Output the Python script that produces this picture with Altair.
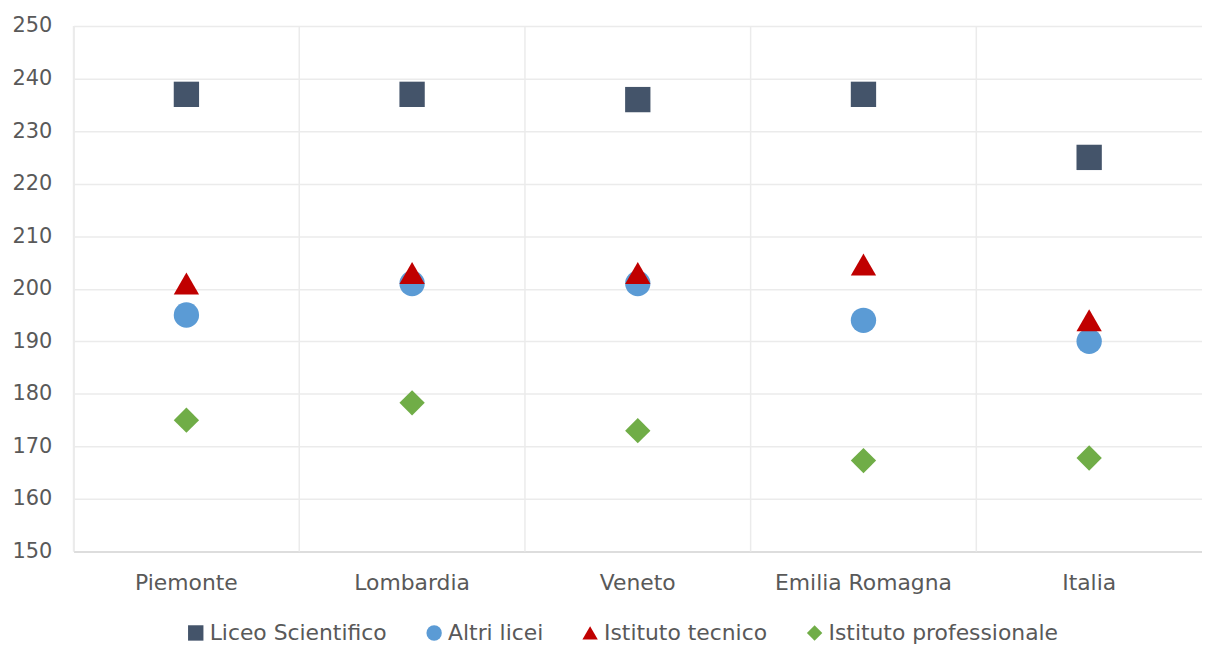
import altair as alt
import pandas as pd

regions = ["Piemonte", "Lombardia", "Veneto", "Emilia Romagna", "Italia"]
series = ["Liceo Scientifico", "Altri licei", "Istituto tecnico", "Istituto professionale"]
liceo_scientifico = [237, 237, 236, 237, 225]
altri_licei = [195, 201, 201, 194, 190]
istituto_tecnico = [201, 203, 203, 204.6, 194]
istituto_professionale = [175, 178.3, 173, 167.3, 167.8]

colors = ["#44546A", "#5B9BD5", "#C00000", "#70AD47"]
shapes = ["square", "circle", "triangle-up", "diamond"]

rows = []
for s, vals in zip(series, [liceo_scientifico, altri_licei, istituto_tecnico, istituto_professionale]):
    for r, v in zip(regions, vals):
        rows.append({"Regione": r, "Serie": s, "Valore": v})
df = pd.DataFrame(rows)
df_regions = pd.DataFrame({"Regione": regions})

FONT = "DejaVu Sans"
GREY = "#595959"

xscale = alt.Scale(domain=regions, paddingInner=0, paddingOuter=0)
xaxis = alt.Axis(title=None, labelAngle=0, labelFontSize=22, labelColor=GREY,
                 labelFont=FONT, labelPadding=21, ticks=False, grid=False,
                 domainColor="#d9d9d9", domainWidth=1.5, labelFontWeight="normal")

grid = alt.Chart(df_regions).mark_rule(color="#ebebeb", strokeWidth=1.5).encode(
    x=alt.X("Regione:N", bandPosition=0, scale=xscale, sort=regions, axis=xaxis)
)

points = alt.Chart(df).mark_point(filled=True, size=650, opacity=1).encode(
    x=alt.X("Regione:N", sort=regions, scale=xscale, axis=xaxis),
    y=alt.Y("Valore:Q", scale=alt.Scale(domain=[150, 250], nice=False, zero=False),
            axis=alt.Axis(title=None, values=list(range(150, 251, 10)), labelFontSize=21,
                          labelColor=GREY, labelFont=FONT, labelPadding=22, ticks=False,
                          domain=False, gridColor="#ebebeb", gridWidth=1.5)),
    color=alt.Color("Serie:N", sort=series,
                    scale=alt.Scale(domain=series, range=colors),
                    legend=alt.Legend(title=None, orient="none", direction="horizontal",
                                      legendX=112, legendY=600,
                                      labelFontSize=22, labelColor=GREY, labelFont=FONT,
                                      labelLimit=400, symbolSize=240, columnPadding=36,
                                      labelOffset=3, symbolOpacity=1)),
    shape=alt.Shape("Serie:N", sort=series,
                    scale=alt.Scale(domain=series, range=shapes)),
)

chart = alt.layer(grid, points).properties(
    width=1136, height=529,
    autosize=alt.AutoSizeParams(type="none"),
    padding={"left": 66, "top": 16, "right": 0, "bottom": 95},
).configure_view(stroke=None).configure(font=FONT)

chart.save("out.html", embed_options={"renderer": "svg", "actions": False})
